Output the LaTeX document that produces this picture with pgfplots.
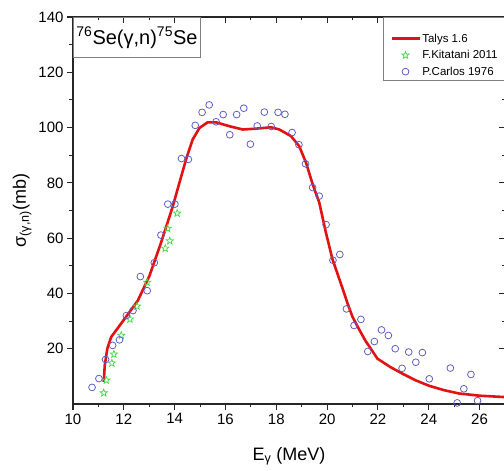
\documentclass[border=0pt]{standalone}
\usepackage{pgfplots}
\pgfplotsset{compat=1.18}
\usepackage{fontspec}
\setmainfont{Liberation Sans}

\definecolor{talys}{RGB}{226,18,18}
\definecolor{kit}{RGB}{70,215,70}
\definecolor{carl}{RGB}{95,95,195}

% open five-pointed star
\pgfdeclareplotmark{ostar}{%
  \pgfpathmoveto{\pgfpointpolar{90}{\pgfplotmarksize}}%
  \pgfpathlineto{\pgfpointpolar{126}{0.42*\pgfplotmarksize}}%
  \pgfpathlineto{\pgfpointpolar{162}{\pgfplotmarksize}}%
  \pgfpathlineto{\pgfpointpolar{198}{0.42*\pgfplotmarksize}}%
  \pgfpathlineto{\pgfpointpolar{234}{\pgfplotmarksize}}%
  \pgfpathlineto{\pgfpointpolar{270}{0.42*\pgfplotmarksize}}%
  \pgfpathlineto{\pgfpointpolar{306}{\pgfplotmarksize}}%
  \pgfpathlineto{\pgfpointpolar{342}{0.42*\pgfplotmarksize}}%
  \pgfpathlineto{\pgfpointpolar{18}{\pgfplotmarksize}}%
  \pgfpathlineto{\pgfpointpolar{54}{0.42*\pgfplotmarksize}}%
  \pgfpathclose
  \pgfusepathqstroke
}

\pgfplotsset{
  frame/.style={
    scale only axis, width=432pt, height=387pt,
    xmin=10, xmax=27, ymin=0, ymax=140,
    xtick={10,12,...,26}, minor x tick num=1,
    ytick={20,40,...,140}, minor y tick num=1,
    major tick length=6pt, minor tick length=3.5pt,
    every tick/.style={line width=1.1pt, black!85},
  },
  lineleg/.style={legend image code/.code={\draw[##1] (0pt,0pt) -- (28pt,0pt);}},
  markleg/.style={legend image code/.code={\draw[mark repeat=2,mark phase=2,##1]
    plot coordinates {(0pt,0pt) (14pt,0pt) (28pt,0pt)};}},
}

\begin{document}
\begin{tikzpicture}
% inward ticks on top and right
\begin{axis}[
  frame,
  xtick pos=right, ytick pos=right, tick align=inside,
  xticklabels={}, yticklabels={},
  axis line style={draw=none},
]
\end{axis}
\begin{axis}[
  frame,
  xtick pos=left, ytick pos=left, tick align=outside,
  axis line style={line width=1.3pt, black!85},
  /pgf/number format/assume math mode=true,
  tick label style={font=\fontsize{15}{18}\selectfont},
  xlabel={E\textsubscript{γ} (MeV)},
  ylabel={σ\textsubscript{(γ,n)}(mb)},
  label style={font=\fontsize{18}{21}\selectfont},
  xlabel style={yshift=-16pt},
  legend style={at={(axis description cs:0.7176,0.837)}, anchor=south west,
    draw=none, fill=none, font=\fontsize{11.5}{13}\selectfont,
    inner xsep=7pt, inner ysep=0pt, row sep=0pt,
    nodes={inner xsep=1.5pt, inner ysep=3.3pt}},
  legend cell align=left,
]
\coordinate (bl) at (rel axis cs:0,0);
\coordinate (tr) at (rel axis cs:1,1);

\addplot[talys, line width=2.6pt, line join=round, lineleg]
  coordinates {
  (11.21,8.0) (11.25,14.0) (11.35,20.0) (11.50,24.2) (12.03,30.8)
  (12.55,37.4) (13.01,46.4) (13.47,58.5) (13.93,71.6) (14.19,80.1)
  (14.45,88.5) (14.71,95.7) (14.98,99.9) (15.30,101.9) (15.63,101.9)
  (16.15,100.5) (16.68,99.3) (17.20,99.6) (17.79,100.1) (18.12,99.3)
  (18.58,96.9) (18.90,93.3) (19.17,87.3) (19.43,79.5) (19.69,72.9)
  (19.95,62.1) (20.21,52.4) (20.60,42.0) (20.80,36.5) (21.00,31.5)
  (21.26,27.0) (21.50,23.0) (21.72,20.0) (21.98,16.4) (22.50,13.3)
  (22.96,11.0) (23.50,8.5) (24.01,6.6) (24.60,5.0) (25.19,3.8)
  (26.00,3.0) (27.00,2.5)
  };
\addlegendentry{Talys 1.6}

\addplot[only marks, mark=ostar, mark size=3.8pt, kit, line width=0.7pt, markleg]
  coordinates {
  (11.21,4.0) (11.31,8.6) (11.53,14.8) (11.61,18.0) (11.90,24.8)
  (12.24,30.7) (12.52,35.4) (12.92,44.0) (13.63,56.3) (13.72,63.5)
  (13.81,59.0) (14.10,69.0)
  };
\addlegendentry{F.Kitatani 2011}

\addplot[only marks, mark=o, mark size=3.4pt, carl, line width=0.8pt,
  mark options={fill=white}, markleg]
  coordinates {
  (10.75,6.0) (11.02,9.2) (11.28,16.1) (11.56,21.2) (11.83,23.2)
  (12.10,32.0) (12.36,33.8) (12.65,46.1) (12.92,41.0) (13.20,51.1)
  (13.46,61.1) (13.73,72.3) (14.01,72.3) (14.27,88.8) (14.54,88.5)
  (14.81,100.8) (15.08,105.5) (15.36,108.2) (15.63,102.1) (15.91,104.7)
  (16.17,97.4) (16.44,104.7) (16.72,107.0) (16.98,94.0) (17.25,100.6)
  (17.53,105.6) (17.80,100.4) (18.07,105.5) (18.34,104.8) (18.62,98.2)
  (18.89,93.8) (19.15,86.9) (19.43,78.3) (19.69,75.2) (19.96,64.9)
  (20.23,52.0) (20.50,54.1) (20.76,34.4) (21.06,28.4) (21.33,30.6)
  (21.60,19.0) (21.86,22.6) (22.14,26.8) (22.41,24.8) (22.68,20.0)
  (22.95,12.9) (23.21,18.8) (23.49,15.1) (23.75,18.6) (24.02,9.1)
  (24.85,13.0) (25.12,0.4) (25.38,5.5) (25.66,10.7) (25.92,1.2)
  };
\addlegendentry{P.Carlos 1976}

\draw[gray, fill=white, line width=0.9pt] (axis description cs:0.7176,0.837)
  rectangle (axis description cs:1,1);
\node[draw=gray, line width=0.9pt, anchor=north west, inner xsep=3pt,
  minimum height=40pt, font=\fontsize{20}{23}\selectfont]
  at (rel axis cs:0,1) {\textsuperscript{76}Se(γ,n)\textsuperscript{75}Se};
\end{axis}
\pgfresetboundingbox
\path ([xshift=-73pt,yshift=-67pt]bl) rectangle ([xshift=-1pt,yshift=17pt]tr);
\end{tikzpicture}
\end{document}
